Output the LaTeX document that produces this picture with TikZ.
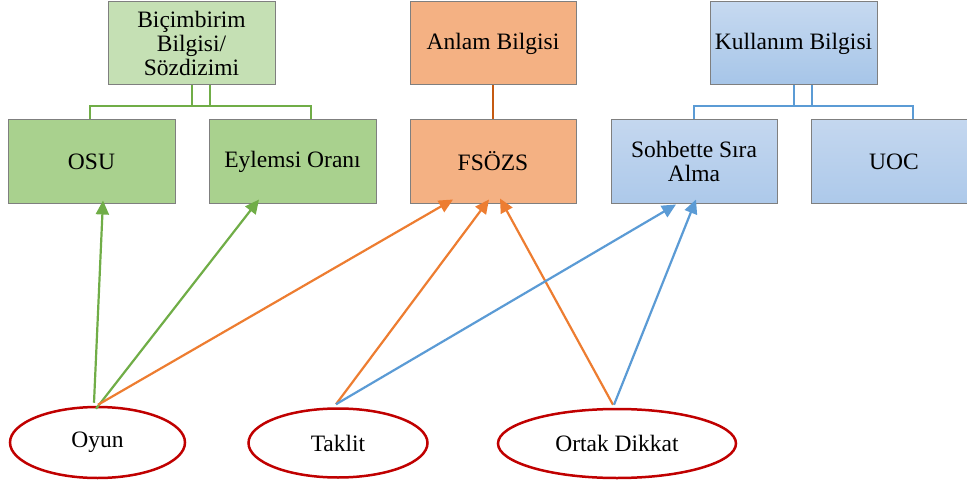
\documentclass[tikz,border=0pt]{standalone}
\usepackage{fontspec}
\setmainfont{Liberation Serif}
\newfontfamily\tnrfont{Liberation Serif}
\usetikzlibrary{arrows.meta,calc,shapes.geometric}
\definecolor{boxgray}{HTML}{7F7F7F}
\definecolor{gfillA}{HTML}{C5E0B4}
\definecolor{gfillB}{HTML}{A9D18E}
\definecolor{ofill}{HTML}{F4B183}
\definecolor{btopA}{HTML}{C6D9F0}
\definecolor{bbotA}{HTML}{A6C5E8}
\definecolor{btopB}{HTML}{C4D7EF}
\definecolor{bbotB}{HTML}{ADC9EA}
\definecolor{gline}{HTML}{70AD47}
\definecolor{oline}{HTML}{C55A11}
\definecolor{oarrow}{HTML}{ED7D31}
\definecolor{barrow}{HTML}{5B9BD5}
\definecolor{ellred}{HTML}{C00000}
\begin{document}
\begin{tikzpicture}[x=1pt,y=-1pt,
  txt/.style={font=\tnrfont\fontsize{23.5}{24}\selectfont},
  box/.style={txt, draw=boxgray, line width=1pt, minimum height=83pt, align=center, inner sep=2pt},
  ell/.style={txt, ellipse, draw=ellred, line width=2.5pt, inner sep=0pt},
  tree/.style={line width=2pt},
  arr/.style={line width=2.2pt, -{Triangle[length=14pt,width=13pt]}, shorten >=0pt}
]
\useasboundingbox (0,0) rectangle (967,484);
\clip (0,0) rectangle (967,484);

% boxes
\node[box, fill=gfillA, minimum width=167pt] (bic) at (191.5,43.5) {Biçimbirim\\Bilgisi/\\Sözdizimi};
\node[box, fill=gfillB, minimum width=167pt] (osu) at (91.5,161.5) {OSU};
\node[box, fill=gfillB, minimum width=167pt] (eyl) at (292.5,161.5) {Eylemsi Oranı};
\node[box, fill=ofill, minimum width=166pt] (anl) at (493,43.5) {Anlam Bilgisi};
\node[box, fill=ofill, minimum width=166pt] (fso) at (493,161.5) {FSÖZS};
\node[box, top color=btopA, bottom color=bbotA, minimum width=167pt] (kul) at (793.5,43.5) {Kullanım Bilgisi};
\node[box, top color=btopB, bottom color=bbotB, minimum width=166pt] (soh) at (694,161.5) {Sohbette Sıra\\Alma};
\node[box, top color=btopB, bottom color=bbotB, minimum width=166pt] (uoc) at (894,161.5) {UOC};

% ellipses
\node[ell, minimum width=175pt, minimum height=71pt] (oyun) at (97.5,442.5) {Oyun};
\node[ell, minimum width=179pt, minimum height=69pt] (taklit) at (338,443) {Taklit};
\node[ell, minimum width=238pt, minimum height=69pt] (ortak) at (617,443.5) {Ortak Dikkat};

% hierarchy connectors
\draw[tree, gline] ($(bic.south)+(0.5,0)$) |- ($(bic.south)+(0,21)$) -| ($(eyl.north)+(18.5,0)$);
\draw[tree, gline] ($(bic.south)+(18,0)$) |- ($(bic.south)+(0,21)$) -| ($(osu.north)+(-1.5,0)$);
\draw[tree, oline] (anl.south) -- (fso.north);
\draw[tree, barrow] ($(kul.south)+(0.5,0)$) |- ($(kul.south)+(0,21)$) -| ($(uoc.north)+(19,0)$);
\draw[tree, barrow] ($(kul.south)+(18.5,0)$) |- ($(kul.south)+(0,21)$) -| (soh.north);

% arrows
\draw[arr, gline] ($(oyun.north)+(-3.5,-3)$) -- ($(osu.south)+(11.5,-3)$);
\draw[arr, gline] ($(oyun.north)+(-1.5,3)$) -- ($(eyl.south)+(-33.5,-4)$);
\draw[arr, oarrow] ($(oyun.north)+(0.5,-1)$) -- ($(fso.south)+(-40,-4)$);
\draw[arr, oarrow] ($(taklit.north)+(-2,-3)$) -- ($(fso.south)+(-4,-4)$);
\draw[arr, oarrow] ($(ortak.north)+(-4,-3)$) -- ($(fso.south)+(7,-5)$);
\draw[arr, barrow] ($(taklit.north)+(-2,-3)$) -- ($(soh.south)+(-18,1)$);
\draw[arr, barrow] ($(ortak.north)+(-3,-3)$) -- ($(soh.south)+(2,-4)$);
\end{tikzpicture}
\end{document}
